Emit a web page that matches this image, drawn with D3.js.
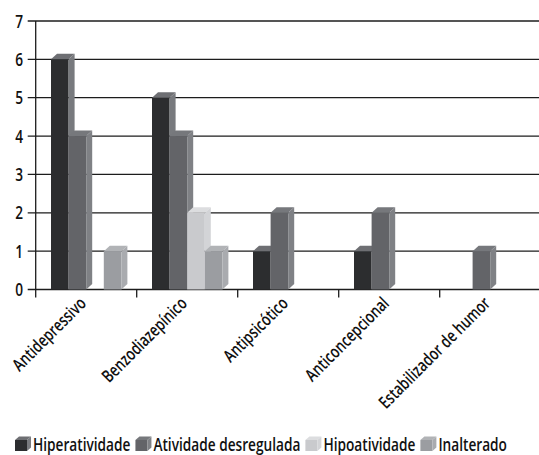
<!DOCTYPE html>
<html>
<head>
<meta charset="utf-8">
<script src="https://cdn.jsdelivr.net/npm/d3@7/dist/d3.min.js"></script>
<style>
  body { margin: 0; background: #fff; }
  text { font-family: "Open Sans", sans-serif; font-weight: 600; fill: #111; }
</style>
</head>
<body>
<svg id="chart" width="539" height="455"></svg>
<script>
let categories = ["Antidepressivo", "Benzodiazepínico", "Antipsicótico", "Anticoncepcional", "Estabilizador de humor"]
let series = ["Hiperatividade", "Atividade desregulada", "Hipoatividade", "Inalterado"]
let hiperatividade = [6, 5, 1, 1, 0]
let desregulada = [4, 4, 2, 2, 1]
let hipoatividade = [0, 2, 0, 0, 0]
let inalterado = [1, 1, 0, 0, 0]
let y_ticks = [0, 1, 2, 3, 4, 5, 6, 7]

let values = [hiperatividade, desregulada, hipoatividade, inalterado]

// front / top / side shades for each series
let shades = [
  {front: "#2c2d2f", top: "#6e6f73", side: "#787a7e"},
  {front: "#636468", top: "#76787c", side: "#7f8185"},
  {front: "#c9cacd", top: "#dcdddf", side: "#d3d4d7"},
  {front: "#9b9da1", top: "#b1b3b6", side: "#a9abaf"}
]

let width = 539,
    height = 455,
    margins = {top: 21, left: 35.7, right: -1.7, bottom: 165.5},
    depth = {dx: 6, dy: 5.5},
    condense = 0.76   // no condensed face installed, squeeze Open Sans instead

let svg = d3.select("#chart")

let x = d3.scaleBand()
  .domain(categories)
  .range([margins.left, width - margins.right])

let x1 = d3.scaleBand()
  .domain(series)
  .range([0, x.bandwidth()])
  .paddingOuter(0.87)

let y = d3.scaleLinear()
  .domain([0, 7])
  .range([height - margins.bottom, margins.top])

// gridlines
svg.append("g")
  .selectAll("line")
  .data(y_ticks).enter()
  .append("line")
  .attr("x1", margins.left - 8)
  .attr("x2", width)
  .attr("y1", d => y(d))
  .attr("y2", d => y(d))
  .attr("stroke", "#1c1c1c")
  .attr("stroke-width", 1.3)

// y labels
svg.append("g")
  .selectAll("text")
  .data(y_ticks).enter()
  .append("text")
  .attr("transform", d => `translate(23,${y(d) + 6.5}) scale(${condense},1)`)
  .attr("text-anchor", "end")
  .style("font-size", "18px")
  .text(d => d)

// axis lines
svg.append("line")
  .attr("x1", margins.left).attr("x2", margins.left)
  .attr("y1", y(7)).attr("y2", y(0) + 8)
  .attr("stroke", "#1c1c1c").attr("stroke-width", 1.3)

svg.append("g")
  .selectAll("line")
  .data(categories.slice(1)).enter()
  .append("line")
  .attr("x1", d => x(d)).attr("x2", d => x(d))
  .attr("y1", y(0)).attr("y2", y(0) + 8)
  .attr("stroke", "#1c1c1c").attr("stroke-width", 1.3)

// bars
function bar(g, x0, w, yTop, y0, c, d) {
  let dx = d.dx, dy = d.dy
  g.append("rect")
    .attr("x", x0).attr("y", yTop)
    .attr("width", w).attr("height", y0 - yTop)
    .attr("fill", c.front)
  g.append("path")
    .attr("d", `M${x0},${yTop}L${x0 + dx},${yTop - dy}L${x0 + w + dx},${yTop - dy}L${x0 + w},${yTop}Z`)
    .attr("fill", c.top)
  g.append("path")
    .attr("d", `M${x0 + w},${yTop}L${x0 + w + dx},${yTop - dy}L${x0 + w + dx},${y0 - dy}L${x0 + w},${y0}Z`)
    .attr("fill", c.side)
}

let bars = svg.append("g")
categories.forEach((cat, i) => {
  series.forEach((s, j) => {
    let v = values[j][i]
    if (v > 0) {
      bar(bars, x(cat) + x1(s), x1.bandwidth(), y(v), y(0), shades[j], depth)
    }
  })
})

// x labels
svg.append("g")
  .selectAll("text")
  .data(categories).enter()
  .append("text")
  .attr("transform", d => `translate(${x(d) + x.bandwidth() / 2 + 1},${y(0) + 15}) rotate(-45) scale(${condense},1)`)
  .attr("text-anchor", "end")
  .style("font-size", "17.5px")
  .text(d => d)

// legend
let legend = svg.append("g")
let lx = 15
series.forEach((s, j) => {
  bar(legend, lx, 12, 440, 451, shades[j], {dx: 4, dy: 3.5})
  let t = legend.append("text")
    .attr("transform", `translate(${lx + 18},450.5) scale(${condense},1)`)
    .style("font-size", "18px")
    .text(s)
  lx += 18 + t.node().getComputedTextLength() * condense + 5
})
</script>
</body>
</html>
